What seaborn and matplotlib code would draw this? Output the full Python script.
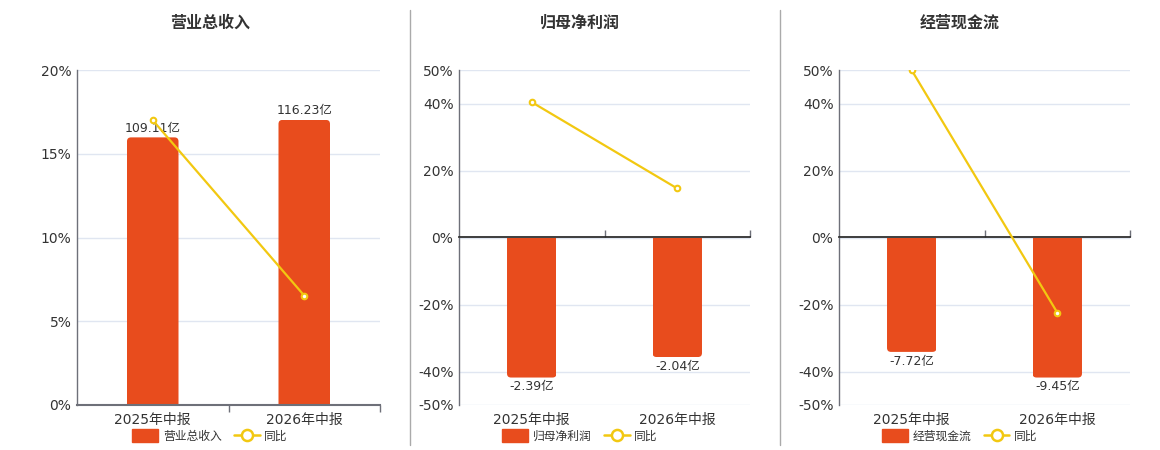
import matplotlib
matplotlib.use("Agg")
import matplotlib.pyplot as plt
import seaborn as sns
from matplotlib.lines import Line2D
from matplotlib.patches import Patch, FancyBboxPatch, Rectangle

# data
periods = ["2025年中报", "2026年中报"]
titles = ["营业总收入", "归母净利润", "经营现金流"]
revenue = [109.11, 116.23]
revenue_yoy = [17.0, 6.53]
profit = [-2.39, -2.04]
profit_yoy = [40.4, 14.64]
cashflow = [-7.72, -9.45]
cashflow_yoy = [49.9, -22.4]
rev_ticks = [0, 5, 10, 15, 20]
pct_ticks = [-50, -40, -20, 0, 20, 40, 50]

BAR = "#e84c1d"
LINE = "#f2c811"
TEXT = "#333333"
AXIS = "#6e7079"
GRID = "#e0e6f1"

sns.set_theme(style="white")
plt.rcParams["font.family"] = ["DejaVu Sans", "Noto Sans CJK SC"]

W, H = 1160, 450
PH = 335  # plot height in px
fig = plt.figure(figsize=(W / 100, H / 100), dpi=100)


def round_bars(ax, width_px, radius_px=4):
    # swap plain bars for ones with rounded far-end corners
    y0, y1 = ax.get_ylim()
    x0, x1 = ax.get_xlim()
    rx = radius_px * (x1 - x0) / width_px
    ry = radius_px * (y1 - y0) / PH
    for p in list(ax.patches):
        x, y, w, h = p.get_x(), p.get_y(), p.get_width(), p.get_height()
        base, end = y, y + h
        if h >= 0:
            by, bh = base - ry * 2, h + ry * 2
        else:
            by, bh = end, -h + ry * 2
        fb = FancyBboxPatch((x, by), w, bh,
                            boxstyle=f"round,pad=0,rounding_size={rx}",
                            mutation_aspect=ry / rx, facecolor=BAR,
                            edgecolor="none", zorder=2)
        clip = Rectangle((x, min(base, end)), w, abs(h),
                         transform=ax.transData)
        ax.add_patch(fb)
        fb.set_clip_path(clip)
        p.set_visible(False)


def draw_panel(left, width, center, title, values, yoy, yticks, sep=None):
    ax = fig.add_axes([left / W, 45 / H, width / W, PH / H])
    axb = ax.twinx()
    axl = ax.twinx()

    # percent axis: grid + labels
    lo, hi = yticks[0], yticks[-1]
    ax.set_ylim(lo, hi)
    ax.set_yticks(yticks, [f"{t}%" for t in yticks])
    ax.grid(axis="y", color=GRID, lw=1)
    ax.set_axisbelow(True)

    # bars on their own hidden scale
    sns.barplot(x=periods, y=values, ax=axb, color=BAR, width=0.34,
                saturation=1, linewidth=0, zorder=2)
    if min(values) >= 0:
        axb.set_ylim(0, max(values) / 0.851)
    else:
        m = max(abs(v) for v in values) / 0.836
        axb.set_ylim(-m, m)
    axb.set_xlim(-0.5, len(periods) - 0.5)
    axb.bar_label(axb.containers[0], labels=[f"{v:.2f}亿" for v in values],
                  padding=2, fontsize=9, color=TEXT)
    round_bars(axb, width)

    # yoy line on top
    sns.pointplot(x=periods, y=yoy, ax=axl, color=LINE, markers="o",
                  markersize=4, markerfacecolor="white", markeredgewidth=1.5,
                  linewidth=1.6)
    axl.set_ylim(lo, hi)

    for a in (axb, axl):
        a.set_yticks([])
        a.set_ylabel("")
        a.set_xlabel("")
        for s in a.spines.values():
            s.set_visible(False)

    ax.set_xlim(-0.5, len(periods) - 0.5)
    ax.set_xlabel("")
    ax.set_ylabel("")
    for s in ("top", "right", "bottom"):
        ax.spines[s].set_visible(False)
    ax.spines["left"].set_color(AXIS)
    ax.spines["left"].set_linewidth(1)
    ax.tick_params(axis="y", length=0, pad=4, labelsize=10, labelcolor=TEXT)
    ax.tick_params(axis="x", length=0, pad=6, labelsize=10, labelcolor=TEXT)

    # zero axis with category boundary ticks
    zero = (0 - lo) / (hi - lo)
    sec = axl.secondary_xaxis(zero)
    sec.set_xticks([0.5, 1.5], ["", ""])
    sec.tick_params(length=5, width=1, color=AXIS, direction="out")
    sec.spines["bottom"].set_color(AXIS)
    sec.spines["bottom"].set_linewidth(1.5)

    fig.text(center / W, 1 - 23 / H, title, ha="center", va="center",
             fontsize=11.5, fontweight="bold", color=TEXT)

    handles = [
        Patch(facecolor=BAR, edgecolor=BAR, label=title),
        Line2D([], [], color=LINE, lw=1.8, marker="o", ms=8,
               mfc="white", mec=LINE, mew=1.8, label="同比"),
    ]
    fig.legend(handles=handles, loc="center",
               bbox_to_anchor=(center / W, 1 - 436 / H), ncol=2,
               frameon=False, fontsize=8.5, handlelength=2.2,
               handleheight=1.2, handletextpad=0.4, columnspacing=1.0,
               labelcolor=TEXT)

    if sep is not None:
        fig.add_artist(Line2D([sep / W, sep / W], [1 - 10 / H, 1 - 445 / H],
                              color="#aaaaaa", lw=1))


draw_panel(77, 303, 210, titles[0], revenue, revenue_yoy, rev_ticks)
draw_panel(459, 291, 580, titles[1], profit, profit_yoy, pct_ticks, sep=410)
draw_panel(839, 291, 960, titles[2], cashflow, cashflow_yoy, pct_ticks, sep=780)

fig.savefig("out.png", dpi=100)
